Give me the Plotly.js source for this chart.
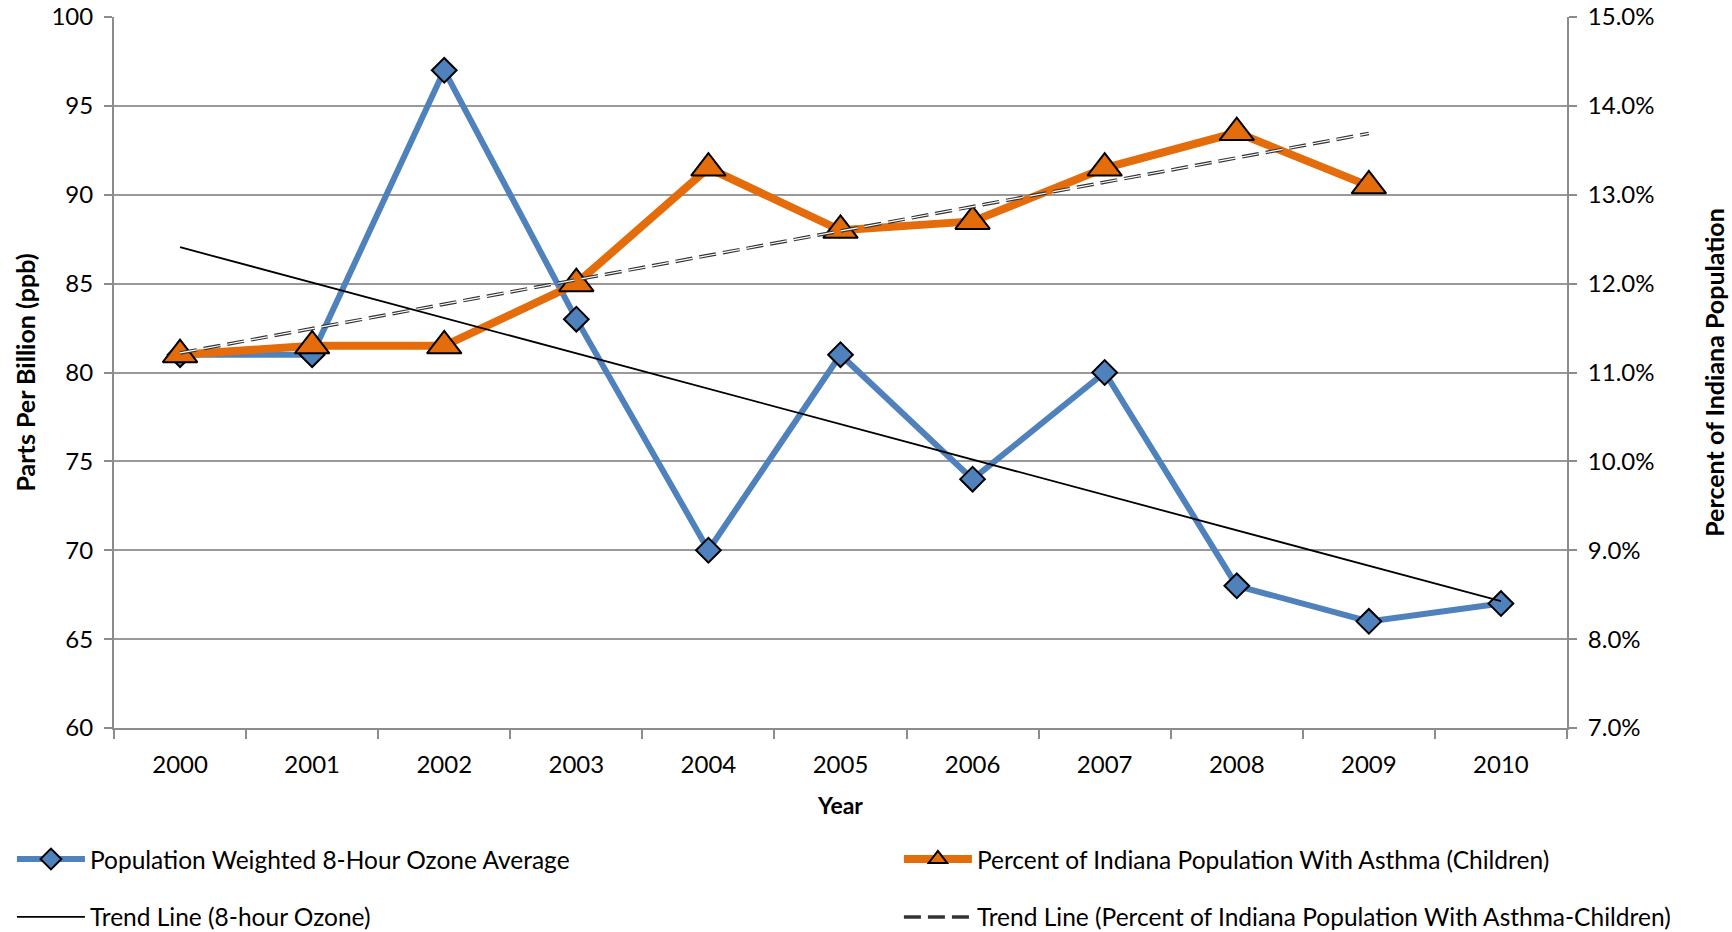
<!DOCTYPE html>
<html>
<head>
<meta charset="utf-8">
<script src="https://cdn.plot.ly/plotly-3.0.1.min.js"></script>
<style>html,body{margin:0;padding:0;background:#fff;}#chart{width:1732px;height:932px;}</style>
</head>
<body>
<div id="chart"></div>
<script>
// ---- data ----
const years = ['2000','2001','2002','2003','2004','2005','2006','2007','2008','2009','2010'];
const ozonePpb = [81, 81, 97, 83, 70, 81, 74, 80, 68, 66, 67];
const asthmaYears = ['2000','2001','2002','2003','2004','2005','2006','2007','2008','2009'];
const asthmaPct = [11.2, 11.3, 11.3, 12.0, 13.3, 12.6, 12.7, 13.3, 13.7, 13.1];
const ozoneTrendYears = ['2000','2010'];
const ozoneTrendPpb = [87.05, 67.14];
const asthmaTrendYears = ['2000','2009'];
const asthmaTrendPct = [11.22, 13.69];

const FONT = 'Lato, "Open Sans", sans-serif';
const GRID = '#999999';
const AXIS = '#8c8c8c';

const traces = [
  {
    name: 'Population Weighted 8-Hour Ozone Average',
    x: years, y: ozonePpb, type: 'scatter', mode: 'lines+markers',
    yaxis: 'y', legend: 'legend',
    line: {color: '#4F81BD', width: 6},
    marker: {symbol: 'diamond', size: 19, color: '#4F81BD', line: {color: '#000', width: 2}}
  },
  {
    name: 'Percent of Indiana Population With Asthma (Children)',
    x: asthmaYears, y: asthmaPct, type: 'scatter', mode: 'lines+markers',
    yaxis: 'y2', legend: 'legend2',
    line: {color: '#E46C0A', width: 8},
    marker: {symbol: 'triangle-up', size: 30, color: '#E46C0A', line: {color: '#000', width: 2}}
  },
  {
    name: 'Trend Line (Percent of Indiana Population With Asthma-Children)',
    x: asthmaTrendYears, y: asthmaTrendPct, type: 'scatter', mode: 'lines',
    yaxis: 'y2', legend: 'legend4',
    line: {color: '#333333', width: 3.5, dash: '17px,7px'}
  },
  {
    name: 'asthma trend inner',
    x: asthmaTrendYears, y: asthmaTrendPct, type: 'scatter', mode: 'lines',
    yaxis: 'y2', showlegend: false, hoverinfo: 'skip',
    line: {color: '#ffffff', width: 1.2, dash: '17px,7px'}
  },
  {
    name: 'Trend Line (8-hour Ozone)',
    x: ozoneTrendYears, y: ozoneTrendPpb, type: 'scatter', mode: 'lines',
    yaxis: 'y3', legend: 'legend3',
    line: {color: '#000000', width: 1.8}
  }
];

function legendAt(x, y) {
  return {
    orientation: 'h', xref: 'container', yref: 'container',
    x: x, xanchor: 'left', y: y, yanchor: 'middle',
    itemwidth: 68,
    font: {family: FONT, size: 24.5, color: '#000'}, bgcolor: 'rgba(0,0,0,0)'
  };
}

const layout = {
  width: 1732, height: 932,
  paper_bgcolor: '#ffffff', plot_bgcolor: '#ffffff',
  margin: {l: 114, r: 165, t: 17, b: 204, autoexpand: false},
  font: {family: FONT, size: 24, color: '#000'},
  showlegend: true,
  xaxis: {
    type: 'category', categoryorder: 'array', categoryarray: years,
    range: [-0.5, 10.5], tickson: 'boundaries',
    ticks: 'outside', ticklen: 9, tickwidth: 2, tickcolor: AXIS,
    showline: true, linecolor: AXIS, linewidth: 2,
    showgrid: false, zeroline: false,
    ticklabelstandoff: 14,
    tickfont: {family: FONT, size: 24, color: '#000'},
    title: {text: 'Year', font: {family: FONT, size: 23, color: '#000', weight: 'bold'}, standoff: 21}
  },
  yaxis: {
    range: [60, 100], dtick: 5, tick0: 60,
    ticks: 'outside', ticklen: 8, tickwidth: 2, tickcolor: AXIS,
    showline: true, linecolor: AXIS, linewidth: 2,
    showgrid: true, gridcolor: GRID, gridwidth: 2, zeroline: false,
    ticklabelstandoff: 6,
    tickfont: {family: FONT, size: 24, color: '#000'},
    title: {text: 'Parts Per Billion (ppb)', font: {family: FONT, size: 25, color: '#000', weight: 'bold'}, standoff: 9}
  },
  yaxis2: {
    overlaying: 'y', side: 'right',
    range: [7, 15], dtick: 1, tick0: 7, tickformat: '.1f', ticksuffix: '%',
    ticks: 'outside', ticklen: 8, tickwidth: 2, tickcolor: AXIS,
    showline: true, linecolor: AXIS, linewidth: 2,
    showgrid: false, zeroline: false,
    ticklabelstandoff: 6,
    tickfont: {family: FONT, size: 24, color: '#000'},
    title: {text: 'Percent of Indiana Population', font: {family: FONT, size: 25, color: '#000', weight: 'bold'}, standoff: 53}
  },
  yaxis3: {
    overlaying: 'y', range: [60, 100], visible: false, showgrid: false, zeroline: false
  },
  legend: legendAt(0.0069, 0.0783),
  legend2: legendAt(0.519, 0.0783),
  legend3: legendAt(0.0069, 0.0161),
  legend4: legendAt(0.519, 0.0161)
};

Plotly.newPlot('chart', traces, layout, {displayModeBar: false, responsive: false});
</script>
</body>
</html>
